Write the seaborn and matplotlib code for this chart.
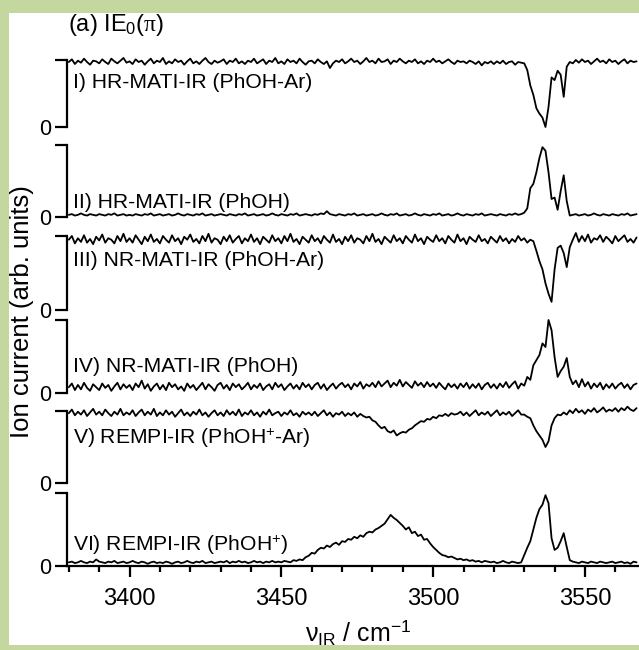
import numpy as np
import pandas as pd
import matplotlib
matplotlib.use("Agg")
import matplotlib.pyplot as plt
import seaborn as sns
from matplotlib.patches import Rectangle
from matplotlib.ticker import MultipleLocator

sns.set_style("ticks")
plt.rcParams["font.family"] = ["Liberation Sans", "DejaVu Sans"]
plt.rcParams["mathtext.fontset"] = "custom"
plt.rcParams["mathtext.rm"] = "Liberation Sans"
plt.rcParams["mathtext.it"] = "Liberation Serif"
plt.rcParams["mathtext.bf"] = "Liberation Sans:bold"
plt.rcParams["mathtext.sf"] = "Liberation Sans"
for key in ("text.color", "axes.labelcolor", "xtick.color", "ytick.color",
            "axes.edgecolor"):
    plt.rcParams[key] = "black"

# ---------------------------------------------------------------- data
# IR scan grid (cm^-1); one sample per wavenumber step
WN_START = 3380.0
WN_STEP = 1.0

panel_labels = [
    "I) HR-MATI-IR (PhOH-Ar)",
    "II) HR-MATI-IR (PhOH)",
    "III) NR-MATI-IR (PhOH-Ar)",
    "IV) NR-MATI-IR (PhOH)",
    r"V) REMPI-IR (PhOH$^{+}$-Ar)",
    r"VI) REMPI-IR (PhOH$^{+}$)",
]

# normalised ion signal, 0 = zero level, 1 = top of each panel's scale bar
hr_mati_phoh_ar = [
    0.97, 1.01, 0.94, 0.99, 0.96, 1.02, 0.97, 0.93, 0.99, 0.98,
    0.95, 1.01, 0.97, 0.94, 1.02, 0.98, 0.95, 0.99, 1.03, 0.96,
    0.98, 0.94, 1.01, 0.97, 0.99, 0.93, 0.98, 1.02, 0.95, 0.99,
    0.97, 1.03, 0.94, 0.98, 0.95, 1.01, 0.97, 0.99, 0.93, 0.98,
    1.02, 0.95, 0.98, 0.94, 0.99, 1.03, 0.97, 0.94, 0.99, 0.96,
    0.98, 1.01, 0.94, 0.99, 0.97, 1.02, 0.95, 0.98, 0.94, 0.99,
    0.97, 1.02, 0.95, 0.98, 1.01, 0.94, 0.99, 0.97, 1.03, 0.95,
    0.98, 0.94, 1.01, 0.97, 0.99, 0.95, 1.02, 0.97, 0.93, 0.98,
    0.99, 0.95, 1.01, 0.97, 0.94, 0.98, 0.88, 0.95, 0.99, 0.97,
    1.01, 0.95, 0.98, 1.02, 0.97, 0.99, 0.94, 0.98, 1.03, 0.97,
    0.99, 0.95, 1.02, 0.97, 0.98, 1.01, 0.94, 0.99, 0.97, 1.02,
    0.98, 0.95, 0.99, 0.97, 1.01, 0.95, 0.98, 0.94, 0.99, 0.97,
    1.02, 0.97, 0.99, 0.95, 0.98, 1.01, 0.97, 0.94, 0.99, 0.97,
    0.98, 0.95, 0.99, 0.97, 0.94, 0.98, 0.92, 0.97, 0.95, 0.98,
    0.94, 0.98, 0.95, 0.99, 0.94, 0.97, 0.98, 0.93, 0.97, 0.96,
    0.95, 0.85, 0.62, 0.48, 0.28, 0.20, 0.14, 0.00, 0.30, 0.74,
    0.70, 0.84, 0.78, 0.45, 0.90, 0.97, 0.95, 1.00, 0.96, 1.01,
    0.97, 0.99, 0.94, 0.98, 1.02, 0.97, 0.99, 0.95, 1.01, 0.97,
    0.99, 0.94, 0.98, 1.01, 0.95, 0.99, 0.97, 0.98,
]

hr_mati_phoh = [
    0.03, 0.04, 0.02, 0.03, 0.05, 0.03, 0.02, 0.04, 0.03, 0.02,
    0.04, 0.03, 0.02, 0.04, 0.03, 0.05, 0.02, 0.03, 0.04, 0.02,
    0.03, 0.02, 0.04, 0.03, 0.02, 0.04, 0.03, 0.05, 0.02, 0.03,
    0.04, 0.02, 0.03, 0.04, 0.02, 0.03, 0.05, 0.03, 0.02, 0.04,
    0.03, 0.02, 0.04, 0.03, 0.05, 0.02, 0.03, 0.04, 0.02, 0.03,
    0.04, 0.03, 0.02, 0.04, 0.03, 0.02, 0.04, 0.03, 0.05, 0.02,
    0.03, 0.04, 0.02, 0.03, 0.04, 0.02, 0.03, 0.05, 0.03, 0.02,
    0.04, 0.03, 0.02, 0.04, 0.03, 0.05, 0.02, 0.03, 0.04, 0.03,
    0.02, 0.04, 0.03, 0.05, 0.04, 0.08, 0.04, 0.03, 0.02, 0.04,
    0.03, 0.02, 0.04, 0.03, 0.05, 0.02, 0.03, 0.04, 0.02, 0.03,
    0.04, 0.02, 0.03, 0.05, 0.03, 0.02, 0.04, 0.03, 0.05, 0.02,
    0.03, 0.04, 0.02, 0.03, 0.05, 0.03, 0.02, 0.04, 0.03, 0.02,
    0.04, 0.03, 0.05, 0.02, 0.03, 0.04, 0.02, 0.03, 0.05, 0.03,
    0.02, 0.04, 0.03, 0.02, 0.04, 0.03, 0.05, 0.02, 0.03, 0.04,
    0.03, 0.02, 0.04, 0.03, 0.02, 0.04, 0.03, 0.05, 0.03, 0.04,
    0.06, 0.12, 0.40, 0.46, 0.62, 0.82, 0.97, 0.92, 0.62, 0.25,
    0.27, 0.10, 0.36, 0.58, 0.22, 0.02, 0.03, 0.04, 0.02, 0.03,
    0.04, 0.02, 0.03, 0.05, 0.03, 0.02, 0.04, 0.03, 0.02, 0.04,
    0.03, 0.02, 0.04, 0.03, 0.05, 0.02, 0.03, 0.04,
]

nr_mati_phoh_ar = [
    0.95, 1.00, 0.90, 0.97, 0.92, 1.01, 0.91, 0.96, 0.89, 0.99,
    0.94, 1.02, 0.91, 0.97, 0.95, 0.90, 1.00, 0.93, 1.03, 0.92,
    0.97, 0.91, 1.01, 0.95, 0.89, 0.99, 0.93, 1.02, 0.92, 0.96,
    0.90, 1.00, 0.95, 0.91, 1.01, 0.93, 0.97, 0.89, 0.99, 0.95,
    1.02, 0.92, 0.96, 0.90, 1.00, 0.93, 1.03, 0.91, 0.97, 0.95,
    0.89, 0.99, 0.93, 1.01, 0.91, 0.96, 1.00, 0.90, 0.97, 0.93,
    1.02, 0.92, 0.97, 0.89, 0.99, 0.95, 0.91, 1.01, 0.93, 0.97,
    0.90, 1.00, 0.93, 1.03, 0.92, 0.96, 0.89, 0.99, 0.95, 0.91,
    1.01, 0.93, 0.97, 0.90, 1.00, 0.95, 0.91, 1.02, 0.92, 0.96,
    0.89, 0.99, 0.93, 1.01, 0.91, 0.97, 0.95, 0.90, 1.00, 0.93,
    1.03, 0.92, 0.96, 0.89, 0.99, 0.95, 0.91, 1.01, 0.93, 0.97,
    0.90, 1.00, 0.95, 0.91, 1.02, 0.93, 0.97, 0.89, 0.99, 0.95,
    0.92, 1.01, 0.93, 0.97, 0.90, 1.00, 0.95, 0.91, 1.02, 0.93,
    0.97, 0.89, 0.99, 0.95, 0.92, 1.01, 0.93, 0.96, 0.90, 0.99,
    0.95, 0.91, 1.00, 0.93, 0.97, 0.90, 0.96, 0.92, 1.00, 0.94,
    0.97, 0.91, 0.95, 0.93, 0.80, 0.66, 0.55, 0.36, 0.22, 0.11,
    0.55, 0.84, 0.87, 0.77, 0.58, 0.85, 0.95, 1.04, 0.92, 1.00,
    0.93, 1.02, 0.91, 0.97, 0.95, 1.01, 0.92, 0.99, 0.95, 0.90,
    1.00, 0.93, 0.97, 1.01, 0.92, 0.96, 0.91, 0.98,
]

nr_mati_phoh = [
    0.08, 0.13, 0.04, 0.11, 0.05, 0.14, 0.07, 0.03, 0.12, 0.08,
    0.04, 0.13, 0.07, 0.11, 0.03, 0.09, 0.14, 0.05, 0.12, 0.07,
    0.11, 0.04, 0.13, 0.08, 0.17, 0.06, 0.12, 0.03, 0.09, 0.13,
    0.05, 0.11, 0.04, 0.14, 0.08, 0.12, 0.05, 0.09, 0.03, 0.13,
    0.07, 0.11, 0.04, 0.09, 0.14, 0.05, 0.12, 0.08, 0.03, 0.11,
    0.14, 0.06, 0.11, 0.04, 0.13, 0.08, 0.12, 0.05, 0.09, 0.14,
    0.05, 0.11, 0.07, 0.13, 0.04, 0.09, 0.12, 0.05, 0.14, 0.08,
    0.12, 0.04, 0.09, 0.13, 0.06, 0.11, 0.05, 0.14, 0.08, 0.12,
    0.05, 0.11, 0.14, 0.06, 0.12, 0.04, 0.09, 0.13, 0.06, 0.11,
    0.14, 0.08, 0.12, 0.05, 0.13, 0.09, 0.15, 0.06, 0.12, 0.09,
    0.14, 0.08, 0.16, 0.09, 0.13, 0.17, 0.08, 0.14, 0.10, 0.18,
    0.09, 0.15, 0.11, 0.07, 0.16, 0.10, 0.14, 0.08, 0.15, 0.09,
    0.13, 0.07, 0.14, 0.09, 0.05, 0.13, 0.08, 0.12, 0.06, 0.13,
    0.08, 0.14, 0.06, 0.12, 0.07, 0.13, 0.05, 0.11, 0.14, 0.07,
    0.12, 0.06, 0.13, 0.08, 0.15, 0.07, 0.12, 0.16, 0.06, 0.13,
    0.10, 0.22, 0.18, 0.38, 0.45, 0.52, 0.68, 0.63, 1.00, 0.86,
    0.49, 0.22, 0.30, 0.36, 0.48, 0.22, 0.12, 0.17, 0.08, 0.19,
    0.09, 0.15, 0.06, 0.13, 0.08, 0.14, 0.05, 0.12, 0.07, 0.13,
    0.06, 0.11, 0.14, 0.07, 0.12, 0.05, 0.11, 0.13,
]

rempi_phoh_cation_ar = [
    0.97, 1.02, 0.94, 0.99, 0.95, 1.01, 0.93, 0.98, 1.03, 0.95,
    0.99, 0.94, 1.02, 0.97, 0.93, 0.99, 0.95, 1.03, 0.94, 0.98,
    0.95, 1.01, 0.93, 0.98, 1.02, 0.94, 0.99, 0.95, 1.03, 0.93,
    0.98, 0.94, 1.01, 0.95, 0.99, 0.92, 0.97, 1.02, 0.94, 0.98,
    0.93, 0.99, 0.95, 1.02, 0.94, 0.98, 0.92, 0.97, 1.01, 0.94,
    0.98, 0.93, 1.01, 0.95, 0.99, 0.94, 1.02, 0.93, 0.98, 0.95,
    1.01, 0.94, 0.98, 0.92, 0.99, 0.95, 1.02, 0.94, 0.97, 0.99,
    0.93, 0.98, 0.95, 1.01, 0.94, 0.97, 0.92, 0.99, 0.95, 0.98,
    0.94, 0.99, 0.93, 0.97, 1.01, 0.94, 0.98, 0.92, 0.97, 0.95,
    0.99, 0.93, 0.97, 0.94, 0.98, 0.92, 0.96, 0.93, 0.91, 0.92,
    0.87, 0.85, 0.80, 0.76, 0.78, 0.72, 0.70, 0.73, 0.66, 0.69,
    0.71, 0.70, 0.74, 0.76, 0.80, 0.83, 0.86, 0.85, 0.89, 0.88,
    0.92, 0.90, 0.94, 0.93, 0.96, 0.93, 0.97, 0.95, 0.96, 0.99,
    0.94, 0.98, 0.93, 0.97, 1.01, 0.94, 0.98, 0.95, 0.99, 0.93,
    0.97, 1.01, 0.94, 0.98, 0.95, 0.99, 0.93, 0.97, 1.01, 0.95,
    0.95, 0.92, 0.90, 0.80, 0.72, 0.66, 0.60, 0.50, 0.58, 0.80,
    0.90, 0.95, 0.94, 0.98, 0.95, 1.01, 0.97, 1.03, 0.98, 1.01,
    0.96, 1.02, 0.99, 1.04, 0.98, 1.01, 1.05, 0.99, 1.02, 1.00,
    1.04, 0.99, 1.04, 1.01, 1.06, 1.02, 1.00, 1.04,
]

rempi_phoh_cation = [
    0.05, 0.06, 0.04, 0.05, 0.07, 0.05, 0.04, 0.06, 0.05, 0.09,
    0.06, 0.05, 0.04, 0.06, 0.05, 0.07, 0.04, 0.05, 0.06, 0.04,
    0.05, 0.07, 0.05, 0.04, 0.06, 0.05, 0.03, 0.05, 0.06, 0.04,
    0.05, 0.04, 0.06, 0.05, 0.03, 0.05, 0.06, 0.04, 0.05, 0.07,
    0.05, 0.04, 0.06, 0.05, 0.07, 0.04, 0.05, 0.06, 0.04, 0.05,
    0.06, 0.05, 0.07, 0.04, 0.06, 0.05, 0.07, 0.05, 0.06, 0.04,
    0.05, 0.07, 0.05, 0.06, 0.04, 0.06, 0.05, 0.07, 0.05, 0.06,
    0.05, 0.07, 0.06, 0.05, 0.08, 0.07, 0.09, 0.08, 0.12, 0.14,
    0.18, 0.17, 0.22, 0.25, 0.24, 0.28, 0.26, 0.30, 0.32, 0.29,
    0.34, 0.33, 0.37, 0.36, 0.40, 0.38, 0.42, 0.40, 0.45, 0.47,
    0.46, 0.50, 0.52, 0.55, 0.58, 0.64, 0.70, 0.66, 0.63, 0.59,
    0.55, 0.50, 0.53, 0.45, 0.47, 0.41, 0.43, 0.36, 0.37, 0.31,
    0.26, 0.22, 0.18, 0.15, 0.14, 0.12, 0.13, 0.11, 0.09, 0.10,
    0.08, 0.09, 0.07, 0.08, 0.06, 0.07, 0.05, 0.07, 0.06, 0.05,
    0.06, 0.04, 0.05, 0.07, 0.05, 0.04, 0.06, 0.05, 0.04, 0.05,
    0.15, 0.25, 0.34, 0.50, 0.66, 0.78, 0.84, 0.97, 0.86, 0.38,
    0.22, 0.25, 0.34, 0.45, 0.26, 0.08, 0.06, 0.05, 0.04, 0.06,
    0.05, 0.04, 0.06, 0.05, 0.04, 0.06, 0.05, 0.04, 0.05, 0.06,
    0.04, 0.05, 0.06, 0.04, 0.05, 0.03, 0.06, 0.05,
]

traces = [
    hr_mati_phoh_ar,
    hr_mati_phoh,
    nr_mati_phoh_ar,
    nr_mati_phoh,
    rempi_phoh_cation_ar,
    rempi_phoh_cation,
]

x_major_ticks = [3400, 3450, 3500, 3550]

# ---------------------------------------------------------------- layout
W_PX, H_PX = 639, 650
BORDER = "#c4d79f"
AX_LEFT_PX = 67
X_LIMITS = (3379.4, 3567.8)
# (top of scale bar, zero level) of each panel, in pixels from the top
PANEL_ROWS_PX = [(60, 127), (145, 217), (236, 310), (320, 393), (411, 483), (493, 566)]
LABEL_Y_PX = [82, 203, 260, 367, 438, 545]

fig = plt.figure(figsize=(W_PX / 100, H_PX / 100), dpi=100)
fig.patch.set_facecolor("white")

wavenumber = WN_START + WN_STEP * np.arange(len(traces[0]))

for i, (values, (top, zero)) in enumerate(zip(traces, PANEL_ROWS_PX)):
    rect = [AX_LEFT_PX / W_PX, 1 - zero / H_PX,
            1 - AX_LEFT_PX / W_PX, (zero - top) / H_PX]
    ax = fig.add_axes(rect)
    ax.patch.set_visible(False)
    df = pd.DataFrame({"wavenumber": wavenumber, "signal": values})
    sns.lineplot(data=df, x="wavenumber", y="signal", ax=ax,
                 color="black", linewidth=1.3, clip_on=False)
    ax.set_xlim(*X_LIMITS)
    ax.set_ylim(0, 1)
    ax.set_xlabel("")
    ax.set_ylabel("")
    for side in ("top", "right"):
        ax.spines[side].set_visible(False)
    ax.spines["left"].set_linewidth(1.6)
    ax.set_yticks([0, 1])
    ax.set_yticklabels(["0", ""])
    ax.tick_params(axis="y", direction="out", length=9, width=1.6,
                   labelsize=15.5, pad=2)
    if i == len(traces) - 1:
        ax.spines["bottom"].set_linewidth(1.6)
        ax.xaxis.set_major_locator(plt.FixedLocator(x_major_ticks))
        ax.xaxis.set_minor_locator(MultipleLocator(10))
        ax.tick_params(axis="x", which="major", direction="out", length=8,
                       width=1.6, labelsize=17, pad=8)
        ax.tick_params(axis="x", which="minor", direction="out", length=4,
                       width=1.6)
    else:
        ax.spines["bottom"].set_visible(False)
        ax.set_xticks([])

for label, y_px in zip(panel_labels, LABEL_Y_PX):
    fig.text(73 / W_PX, 1 - y_px / H_PX, label, ha="left", va="center",
             fontsize=15.2)

# heading
fig.text(68 / W_PX, 1 - 31 / H_PX, r"(a) IE$_{\mathrm{0}}$($\pi$)", ha="left",
         va="baseline", fontsize=17)

# axis titles
fig.text(22 / W_PX, 1 - 312 / H_PX, "Ion current (arb. units)", rotation=90,
         ha="center", va="center", fontsize=18.5)
fig.text(358 / W_PX, 1 - 642 / H_PX,
         r"$\mathrm{\nu_{IR}}$ / cm$^{\mathrm{-1}}$",
         ha="center", va="baseline", fontsize=18)

# coloured frame around the panel
for x0, y0, w, h in [(0, 1 - 13 / H_PX, 1, 13 / H_PX),
                     (0, 0, 9 / W_PX, 1),
                     (0, 0, 1, 5 / H_PX)]:
    fig.add_artist(Rectangle((x0, y0), w, h, transform=fig.transFigure,
                             facecolor=BORDER, edgecolor="none", zorder=10))

fig.savefig("out.png", dpi=100)
